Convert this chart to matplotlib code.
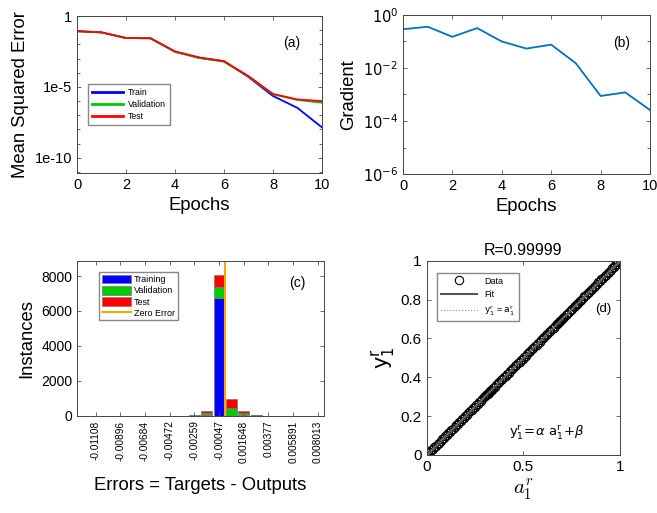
import numpy as np
import matplotlib
matplotlib.use("Agg")
import matplotlib.pyplot as plt
from matplotlib.ticker import FixedLocator, NullFormatter

plt.rcParams['font.family'] = ['Liberation Sans', 'DejaVu Sans']
plt.rcParams['mathtext.fontset'] = 'dejavusans'

# ---------- data ----------
epochs = [0, 1, 2, 3, 4, 5, 6, 7, 8, 9, 10]
mse_train = [0.085, 0.07, 0.028, 0.027, 3e-3, 1.1e-3, 6.5e-4, 5e-5, 2.3e-6, 3.3e-7, 1.4e-8]
mse_val = [0.085, 0.07, 0.028, 0.027, 3e-3, 1.1e-3, 6.0e-4, 5.5e-5, 3.0e-6, 1.2e-6, 7.6e-7]
mse_test = [0.085, 0.07, 0.028, 0.027, 3.2e-3, 1.2e-3, 6.5e-4, 5.8e-5, 3.2e-6, 1.3e-6, 1.0e-6]
gradient = [0.29, 0.36, 0.15, 0.32, 0.10, 0.054, 0.076, 0.015, 8.8e-4, 1.2e-3, 2.6e-4]

bin_centers = [-0.01214, -0.01108, -0.01002, -0.00896, -0.00790, -0.00684, -0.00578,
               -0.00472, -0.00366, -0.00259, -0.00153, -0.00047, 0.000589, 0.001648,
               0.00271, 0.00377, 0.00483, 0.005891, 0.00695, 0.008013]
tick_labels_c = ['-0.01108', '-0.00896', '-0.00684', '-0.00472', '-0.00259',
                 '-0.00047', '0.001648', '0.00377', '0.005891', '0.008013']
tick_bins_c = [1, 3, 5, 7, 9, 11, 13, 15, 17, 19]
hist_train = [0, 0, 0, 0, 0, 0, 0, 0, 3, 10, 30, 6750, 0, 20, 15, 3, 0, 0, 0, 0]
hist_val = [0, 0, 0, 0, 0, 0, 0, 0, 1, 8, 110, 650, 460, 120, 10, 1, 0, 0, 0, 0]
hist_test = [0, 0, 0, 0, 0, 0, 0, 0, 1, 10, 140, 680, 480, 130, 12, 1, 0, 0, 0, 0]

targets = [0.0, 0.008, 0.016, 0.024, 0.032, 0.04, 0.048, 0.056, 0.064, 0.072, 0.08,
           0.088, 0.096, 0.104, 0.112, 0.12, 0.128, 0.136, 0.144, 0.152, 0.16, 0.168,
           0.176, 0.184, 0.192, 0.2, 0.208, 0.216, 0.224, 0.232, 0.24, 0.248, 0.256,
           0.264, 0.272, 0.28, 0.288, 0.296, 0.304, 0.308, 0.312, 0.316, 0.32, 0.324,
           0.328, 0.332, 0.336, 0.344, 0.352, 0.36, 0.368, 0.376, 0.384, 0.392, 0.4,
           0.408, 0.416, 0.424, 0.432, 0.44, 0.448, 0.456, 0.464, 0.472, 0.48, 0.488,
           0.496, 0.504, 0.512, 0.52, 0.528, 0.536, 0.544, 0.552, 0.56, 0.568, 0.576,
           0.584, 0.592, 0.6, 0.608, 0.616, 0.624, 0.632, 0.64, 0.648, 0.656, 0.664,
           0.672, 0.676, 0.68, 0.684, 0.688, 0.692, 0.696, 0.7, 0.704, 0.712, 0.72,
           0.728, 0.736, 0.744, 0.752, 0.76, 0.768, 0.772, 0.776, 0.784, 0.792, 0.8,
           0.808, 0.816, 0.824, 0.832, 0.84, 0.848, 0.856, 0.864, 0.872, 0.88, 0.888,
           0.896, 0.904, 0.912, 0.92, 0.928, 0.936, 0.944, 0.952, 0.96, 0.968, 0.976,
           0.984, 0.992, 1.0]
outputs = list(targets)
fit_x = [0.0, 1.0]
fit_y = [0.0, 1.0]

# ---------- figure ----------
fig = plt.figure(figsize=(6.57, 5.13), dpi=100)

def style(ax):
    ax.tick_params(direction='in', which='both', top=True, right=True,
                   labelsize=10.5, length=3, width=0.6, color='#555555')
    ax.tick_params(which='minor', length=2)
    for s in ax.spines.values():
        s.set_linewidth(0.7)
        s.set_color('#444444')

# (a)
axa = fig.add_axes([0.1172, 0.6628, 0.3728, 0.3060])
axa.semilogy(epochs, mse_train, color='#0000ff', lw=1.3, label='Train')
axa.semilogy(epochs, mse_val, color='#00cc00', lw=1.3, label='Validation')
axa.semilogy(epochs, mse_test, color='#ff0000', lw=1.3, label='Test')
axa.set_xlim(0, 10)
axa.set_ylim(8.5e-12, 1)
axa.set_xticks([0, 2, 4, 6, 8, 10])
axa.yaxis.set_major_locator(FixedLocator([1e-10, 1e-5, 1]))
axa.set_yticklabels(['1e-10', '1e-5', '1'])
axa.yaxis.set_minor_locator(FixedLocator([10.0**k for k in range(-11, 1)]))
axa.yaxis.set_minor_formatter(NullFormatter())
style(axa)
axa.set_xlabel('Epochs', fontsize=13.3)
axa.set_ylabel('Mean Squared Error', fontsize=13.3)
axa.text(0.876, 0.826, '(a)', transform=axa.transAxes, fontsize=10, ha='center', va='center')
leg = axa.legend(loc='upper left', bbox_to_anchor=(0.044, 0.567), fontsize=6.3, fancybox=False,
                 edgecolor='#888888', framealpha=1, handlelength=3.6, borderpad=0.45,
                 labelspacing=0.35, borderaxespad=0, handletextpad=0.5)
for h in leg.get_lines():
    h.set_linewidth(2)

# (b)
axb = fig.add_axes([0.6134, 0.6608, 0.3759, 0.3100])
axb.semilogy(epochs, gradient, color=(0, 0.447, 0.741), lw=1.3)
axb.set_xlim(0, 10)
axb.set_ylim(1e-6, 1)
axb.set_xticks([0, 2, 4, 6, 8, 10])
axb.yaxis.set_major_locator(FixedLocator([1e-6, 1e-4, 1e-2, 1]))
axb.set_yticklabels(['$10^{-6}$', '$10^{-4}$', '$10^{-2}$', '$10^{0}$'])
axb.yaxis.set_minor_locator(FixedLocator([1e-5, 1e-3, 1e-1]))
axb.yaxis.set_minor_formatter(NullFormatter())
style(axb)
axb.set_xlabel('Epochs', fontsize=13.3)
axb.set_ylabel('Gradient', fontsize=13.3)
axb.text(0.885, 0.822, '(b)', transform=axb.transAxes, fontsize=10, ha='center', va='center')

# (c)
axc = fig.add_axes([0.1172, 0.1897, 0.3760, 0.3021])
width = bin_centers[1] - bin_centers[0]
bw = width * 0.88
tr = np.array(hist_train)
va = np.array(hist_val)
te = np.array(hist_test)
b1 = axc.bar(bin_centers, tr, width=bw, color='#0000ff', edgecolor='#777777', lw=0.5, label='Training')
b2 = axc.bar(bin_centers, va, width=bw, bottom=tr, color='#00cc00', edgecolor='#777777', lw=0.5, label='Validation')
b3 = axc.bar(bin_centers, te, width=bw, bottom=tr + va, color='#ff0000', edgecolor='#777777', lw=0.5, label='Test')
zl = axc.axvline(0, color='#ffa500', lw=1.5, label='Zero Error')
axc.set_xlim(bin_centers[0] - width / 2, bin_centers[-1] + width / 2)
axc.set_ylim(0, 8880)
axc.set_xticks([bin_centers[i] for i in tick_bins_c])
axc.set_xticklabels(tick_labels_c, rotation=90, fontsize=7)
axc.set_yticks([0, 2000, 4000, 6000, 8000])
style(axc)
axc.tick_params(axis='x', labelsize=7.3)
axc.tick_params(axis='y', labelsize=10)
axc.set_xlabel('Errors = Targets - Outputs', fontsize=13.3, labelpad=10)
axc.set_ylabel('Instances', fontsize=13.3)
axc.text(0.89, 0.858, '(c)', transform=axc.transAxes, fontsize=10, ha='center', va='center')
axc.legend([b1, b2, b3, zl], ['Training', 'Validation', 'Test', 'Zero Error'],
           loc='upper left', bbox_to_anchor=(0.089, 0.927), fontsize=6.5, fancybox=False,
           edgecolor='#888888', framealpha=1, handlelength=3.2, handleheight=1.1,
           borderpad=0.3, labelspacing=0.2, borderaxespad=0, handletextpad=0.4)

# (d)
axd = fig.add_axes([0.6495, 0.1131, 0.2942, 0.3787])
axd.plot(targets, outputs, 'o', mfc='none', mec='black', ms=6, mew=0.8, label='Data')
axd.plot(fit_x, fit_y, '-', color='#555555', lw=1.5, label='Fit')
axd.plot(fit_x, fit_y, ':', color='#888888', lw=0.8, label=r'$\mathsf{y}_1^{\mathsf{r}}$ = $\mathsf{a}_1^{\mathsf{r}}$')
axd.set_xlim(0, 1)
axd.set_ylim(0, 1)
axd.set_xticks([0, 0.5, 1])
axd.set_xticklabels(['0', '0.5', '1'])
axd.set_yticks([0, 0.2, 0.4, 0.6, 0.8, 1])
axd.set_yticklabels(['0', '0.2', '0.4', '0.6', '0.8', '1'])
style(axd)
axd.tick_params(labelsize=11)
axd.set_title('R=0.99999', fontsize=11.5, pad=4)
axd.set_xlabel(r'$a_1^r$', fontsize=15, math_fontfamily='cm', labelpad=2)
axd.set_ylabel(r'$\mathsf{y}_1^{\mathsf{r}}$', fontsize=15, labelpad=2)
axd.text(0.915, 0.75, '(d)', transform=axd.transAxes, fontsize=9.5, ha='center', va='center')
axd.text(0.62, 0.12, r'$\mathsf{y}_1^{\mathsf{r}}\!=\!\alpha\ \mathsf{a}_1^{\mathsf{r}}\!+\!\beta$',
         transform=axd.transAxes, fontsize=9.5, ha='center', va='center')
axd.legend(loc='upper left', bbox_to_anchor=(0.053, 0.937), fontsize=6.5, fancybox=False,
           edgecolor='#888888', framealpha=1, handlelength=4.0, borderpad=0.4,
           labelspacing=0.5, borderaxespad=0)

fig.savefig('out.png', dpi=100)
